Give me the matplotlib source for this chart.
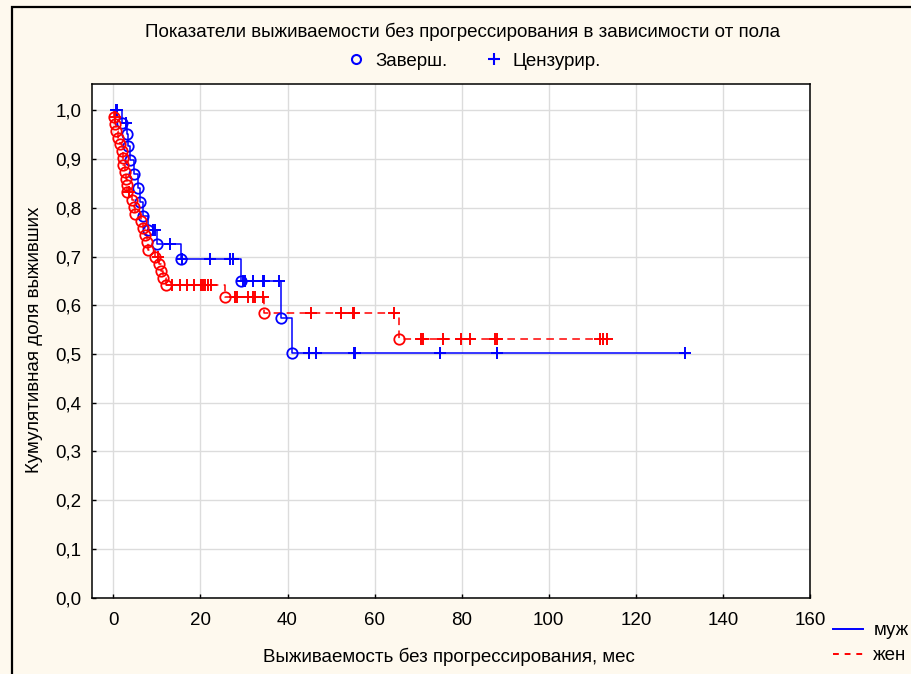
import matplotlib
matplotlib.use('Agg')
import matplotlib.pyplot as plt
from matplotlib.lines import Line2D
from matplotlib.patches import Rectangle
from matplotlib.ticker import FuncFormatter

# Kaplan-Meier estimates, progression-free survival by sex (months)
# муж: event times, survival after each event, censored times
male_event_t = [2.1, 3.1, 3.3, 3.8, 4.8, 5.6, 6.1, 6.7, 8.0, 10.0, 15.6, 29.3, 38.4, 41.1]
male_event_s = [0.975, 0.951, 0.926, 0.898, 0.869, 0.840, 0.812, 0.784, 0.755, 0.725,
                0.694, 0.649, 0.574, 0.503]
male_cens_t = [0.6, 0.8, 2.9, 9.2, 9.5, 12.9, 15.8, 22.2, 26.8, 27.5, 29.8, 30.3, 32.1,
               34.3, 34.6, 38.0, 44.9, 46.5, 55.2, 55.4, 75.0, 88.0, 131.4]

# жен
female_event_t = [0.1, 0.4, 0.6, 1.1, 1.5, 1.9, 2.2, 2.3, 2.7, 2.9, 3.1, 3.2, 4.2, 4.7,
                  5.0, 6.3, 6.9, 7.3, 7.7, 8.0, 9.6, 10.6, 11.0, 11.4, 12.2, 25.6, 34.6, 65.6]
female_event_s = [0.986, 0.972, 0.958, 0.944, 0.930, 0.916, 0.902, 0.888, 0.874, 0.860,
                  0.846, 0.832, 0.817, 0.802, 0.788, 0.773, 0.759, 0.744, 0.729, 0.714,
                  0.700, 0.684, 0.670, 0.655, 0.641, 0.617, 0.584, 0.530]
female_cens_t = [0.3, 3.7, 10.2, 13.5, 15.3, 17.0, 18.5, 20.1, 20.6, 21.1, 21.8, 22.5,
                 27.9, 28.5, 31.0, 32.1, 32.5, 34.3, 45.4, 52.3, 55.0, 55.3, 64.5, 70.6,
                 71.2, 75.6, 79.8, 82.0, 87.6, 88.0, 111.7, 112.5, 113.4]

title = 'Показатели выживаемости без прогрессирования в зависимости от пола'
xlabel = 'Выживаемость без прогрессирования, мес'
ylabel = 'Кумулятивная доля выживших'
x_ticks = [0, 20, 40, 60, 80, 100, 120, 140, 160]
y_ticks = [0.0, 0.1, 0.2, 0.3, 0.4, 0.5, 0.6, 0.7, 0.8, 0.9, 1.0]

BG = '#FEF9EE'
BLUE = '#0000FF'
RED = '#FF0000'
FS = 13.5

plt.rcParams['font.family'] = ['Liberation Sans', 'DejaVu Sans']


def step_xy(ev_t, ev_s, t_end):
    xs = [0.0] + list(ev_t) + [t_end]
    ys = [1.0] + list(ev_s) + [ev_s[-1]]
    return xs, ys


def surv_at(ev_t, ev_s, t):
    s = 1.0
    for et, es in zip(ev_t, ev_s):
        if et <= t:
            s = es
    return s


fig = plt.figure(figsize=(9.12, 6.74), dpi=100, facecolor=BG)
ax = fig.add_axes([92 / 912, 1 - 597.7 / 674, (810 - 92) / 912, (597.7 - 84) / 674])
ax.set_facecolor('white')

groups = [
    (male_event_t, male_event_s, male_cens_t, BLUE, '-'),
    (female_event_t, female_event_s, female_cens_t, RED, (0, (5, 3.5))),
]
for ev_t, ev_s, c_t, col, ls in groups:
    t_end = max(max(ev_t), max(c_t))
    xs, ys = step_xy(ev_t, ev_s, t_end)
    ax.step(xs, ys, where='post', color=col, lw=1.1, ls=ls, zorder=3)
    ax.plot(ev_t, ev_s, ls='', marker='o', ms=7.5, mfc='none', mec=col, mew=1.3, zorder=4)
    cs = [surv_at(ev_t, ev_s, t) for t in c_t]
    ax.plot(c_t, cs, ls='', marker='+', ms=9, mec=col, mew=1.4, zorder=4)

ax.set_xlim(-4.9, 160)
ax.set_ylim(0, 1.054)
ax.set_xticks(x_ticks)
ax.set_yticks(y_ticks)
ax.yaxis.set_major_formatter(FuncFormatter(lambda v, p: f'{v:.1f}'.replace('.', ',')))
ax.grid(True, color='#DCDCDC', lw=1.0)
ax.set_axisbelow(True)
ax.tick_params(direction='in', length=3, width=1, labelsize=FS, colors='black')
ax.tick_params(axis='x', pad=10)
ax.tick_params(axis='y', pad=7.5)
for sp in ax.spines.values():
    sp.set_linewidth(1.1)
    sp.set_color('black')

fig.text(463 / 912, 1 - 32 / 674, title, ha='center', va='center', fontsize=FS)
ax.set_xlabel(xlabel, fontsize=FS, va='center')
ax.xaxis.set_label_coords((449 - 92) / (810 - 92), (597.7 - 657) / (597.7 - 84))
ax.set_ylabel(ylabel, fontsize=FS, va='center')
ax.yaxis.set_label_coords((35 - 92) / (810 - 92), (597.7 - 340) / (597.7 - 84))

# marker legend above the plot
mk_handles = [
    Line2D([], [], ls='', marker='o', ms=6.5, mfc='none', mec=BLUE, mew=1.5),
    Line2D([], [], ls='', marker='+', ms=9, mec=BLUE, mew=1.5),
]
fig.legend(mk_handles, ['Заверш.', 'Цензурир.'], loc='center', ncol=2, frameon=False,
           bbox_to_anchor=(474 / 912, 1 - 61 / 674), fontsize=FS,
           handlelength=1.0, handletextpad=0.5, columnspacing=2.0)

# group legend, bottom right
ln_handles = [
    Line2D([], [], color=BLUE, lw=1.4),
    Line2D([], [], color=RED, lw=1.4, ls=(0, (3, 3))),
]
fig.legend(ln_handles, ['муж', 'жен'], loc='upper left', frameon=False,
           bbox_to_anchor=(833 / 912, 1 - 622 / 674), fontsize=FS,
           handlelength=1.6, handletextpad=0.55, labelspacing=0.42, borderaxespad=0,
           borderpad=0)

# outer frame
fig.add_artist(Rectangle((12 / 912, -0.1), 2.0, 1 - 7 / 674 + 0.1, transform=fig.transFigure,
                         fill=False, ec='black', lw=1.6))

fig.savefig('out.png', dpi=100, facecolor=BG)
